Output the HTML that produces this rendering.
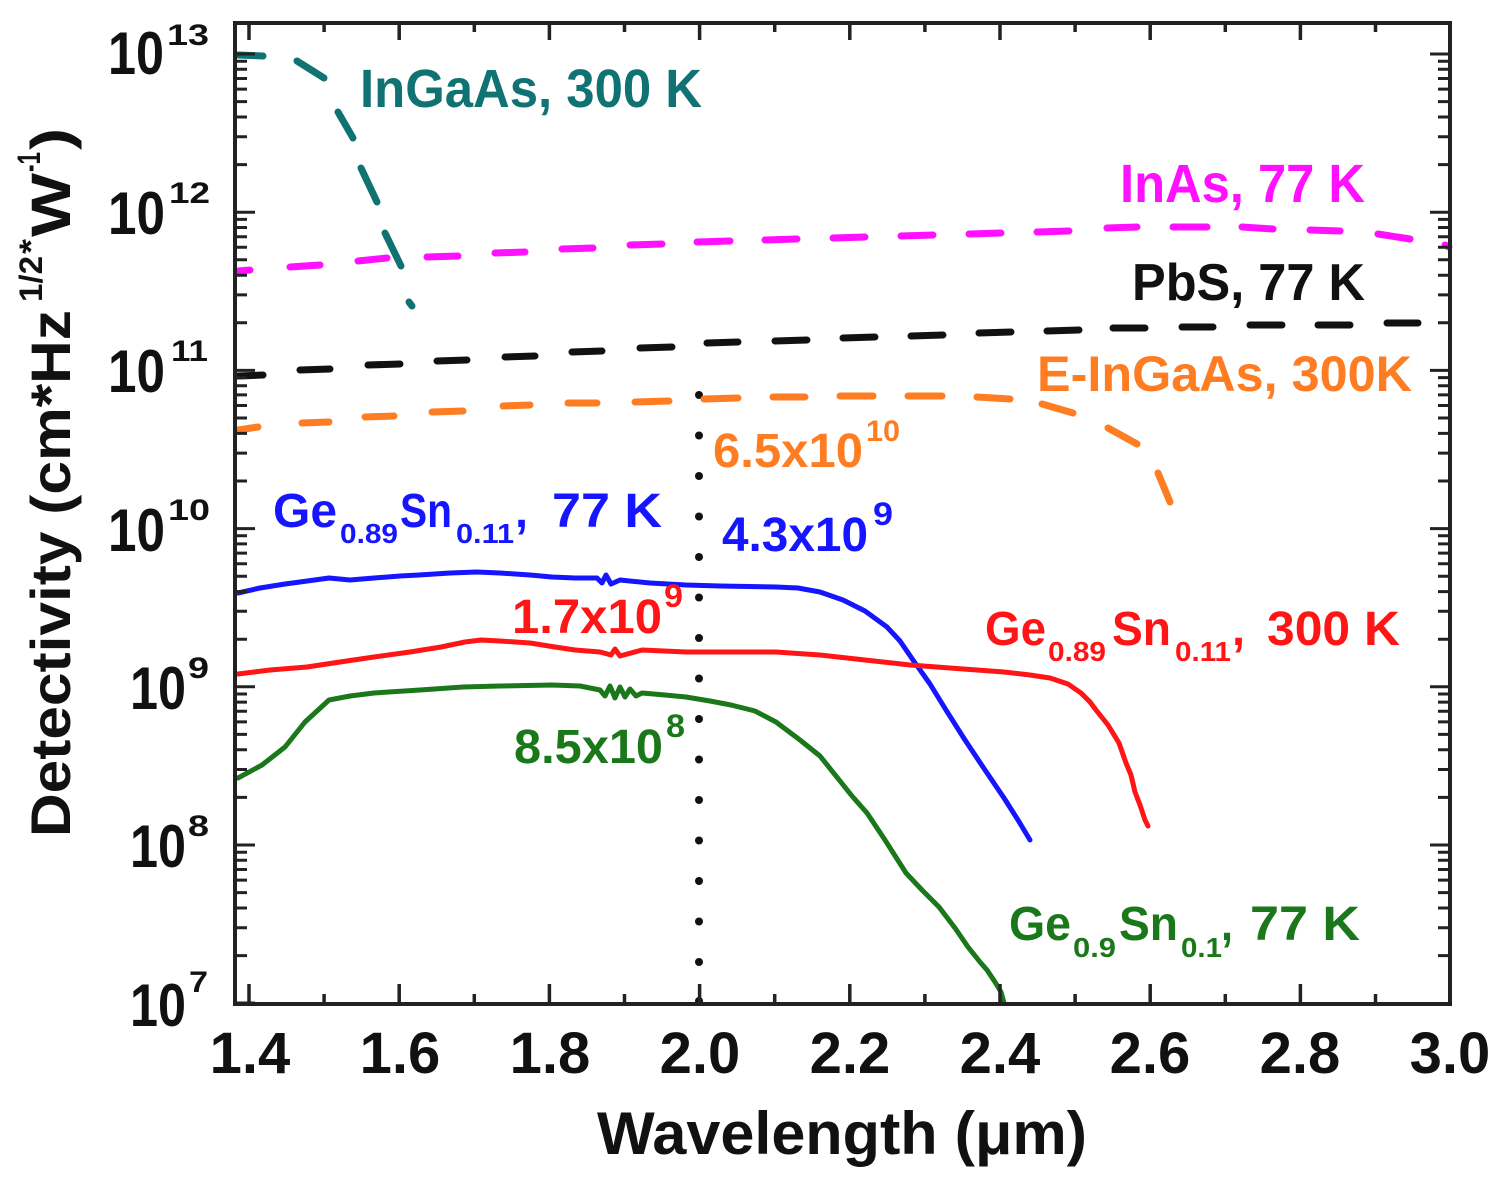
<!DOCTYPE html>
<html>
<head>
<meta charset="utf-8">
<style>
html,body{margin:0;padding:0;background:#fff;}
svg{display:block;}
text{font-family:"Liberation Sans",Arial,sans-serif;font-weight:bold;}
</style>
</head>
<body>
<svg width="1506" height="1185" viewBox="0 0 1506 1185" xmlns="http://www.w3.org/2000/svg">
<rect x="0" y="0" width="1506" height="1185" fill="#fff"/>

<!-- dotted vertical line at 2.0 um -->
<g fill="#111">
<circle cx="699" cy="395" r="4"/><circle cx="699" cy="435.5" r="4"/><circle cx="699" cy="476" r="4"/><circle cx="699" cy="516.5" r="4"/>
<circle cx="699" cy="557" r="4"/><circle cx="699" cy="597.5" r="4"/><circle cx="699" cy="638" r="4"/><circle cx="699" cy="678.5" r="4"/>
<circle cx="699" cy="719" r="4"/><circle cx="699" cy="759.5" r="4"/><circle cx="699" cy="800" r="4"/><circle cx="699" cy="840.5" r="4"/>
<circle cx="699" cy="881" r="4"/><circle cx="699" cy="921.5" r="4"/><circle cx="699" cy="962" r="4"/><circle cx="699" cy="1001" r="4"/>
</g>

<!-- InGaAs 300K teal dashed -->
<g stroke="#107272" stroke-width="7" stroke-linecap="round" fill="none">
<path d="M238,55 L263,56"/>
<path d="M297,61 L324,78"/>
<path d="M338,112 L353,138"/>
<path d="M361,168 L377,202"/>
<path d="M385,233 L401,266"/>
<path d="M409,302 L412,306"/>
</g>

<!-- InAs 77K magenta dashed -->
<g stroke="#ff10ff" stroke-width="7" stroke-linecap="round" fill="none">
<path d="M238,271 L250,270"/>
<path d="M290,267 L320,265"/>
<path d="M358,261 L387,258"/>
<path d="M427,257 L458,256"/>
<path d="M495,253 L525,252"/>
<path d="M562,249 L593,248"/>
<path d="M630,245 L662,244"/>
<path d="M697,242 L730,241"/>
<path d="M765,240 L797,239"/>
<path d="M833,238 L865,237"/>
<path d="M901,236 L933,235"/>
<path d="M969,234 L1001,233"/>
<path d="M1037,232 L1069,231"/>
<path d="M1107,228 L1137,227"/>
<path d="M1173,227 L1207,227"/>
<path d="M1242,227 L1273,229"/>
<path d="M1310,230 L1340,231"/>
<path d="M1378,234 L1410,239"/>
<path d="M1445,245 L1449,247"/>
</g>

<!-- PbS 77K black dashed -->
<g stroke="#111" stroke-width="7" stroke-linecap="round" fill="none">
<path d="M238,376 L263,375"/>
<path d="M300,370 L330,369"/>
<path d="M368,365 L400,364"/>
<path d="M437,361 L467,360"/>
<path d="M505,357 L535,356"/>
<path d="M572,352 L602,351"/>
<path d="M640,348 L672,347"/>
<path d="M707,343 L738,342"/>
<path d="M775,341 L807,340"/>
<path d="M843,338 L875,337"/>
<path d="M911,336 L943,335"/>
<path d="M979,333 L1011,332"/>
<path d="M1047,331 L1079,330"/>
<path d="M1113,328 L1145,328"/>
<path d="M1182,327 L1213,327"/>
<path d="M1250,325 L1282,325"/>
<path d="M1318,325 L1350,325"/>
<path d="M1387,323 L1418,323"/>
</g>

<!-- E-InGaAs 300K orange dashed -->
<g stroke="#ff7d22" stroke-width="7" stroke-linecap="round" fill="none">
<path d="M238,430 L258,427"/>
<path d="M302,423 L329,422"/>
<path d="M365,417 L394,416"/>
<path d="M432,412 L463,411"/>
<path d="M503,406 L530,405"/>
<path d="M568,403 L597,403"/>
<path d="M635,402 L669,401"/>
<path d="M704,399 L738,398"/>
<path d="M773,397 L805,397"/>
<path d="M840,396 L873,396"/>
<path d="M908,396 L942,396"/>
<path d="M977,397 L1010,399"/>
<path d="M1042,404 L1073,413"/>
<path d="M1108,428 L1137,444"/>
<path d="M1158,473 L1170,502"/>
</g>

<!-- Ge0.89Sn0.11 77K blue -->
<polyline fill="none" stroke="#1515ff" stroke-width="5" stroke-linejoin="round" stroke-linecap="round"
points="238,593 260,588 285,584 300,582 329,578 350,580 374,578 400,576 419,575 450,573 477,572 500,573 530,575 552,577 575,578 597,578 602,583 606,575 611,584 620,580 650,583 686,585 720,586 776,587 798,588 820,592 843,600 865,611 887,627 900,641 913,660 930,684 946,710 965,740 985,770 1004,798 1018,820 1030,840"/>

<!-- Ge0.89Sn0.11 300K red -->
<polyline fill="none" stroke="#ff1515" stroke-width="5" stroke-linejoin="round" stroke-linecap="round"
points="238,674 270,670 307,667 340,662 374,657 410,652 441,647 465,642 481,640 500,641 530,643 555,647 575,650 600,652 611,655 615,649 620,656 642,650 686,652 730,652 776,652 820,655 865,660 910,665 950,668 1004,672 1030,675 1050,678 1068,684 1081,693 1090,702 1096,710 1108,725 1119,743 1126,763 1131,775 1135,792 1140,805 1145,820 1148,826"/>

<!-- Ge0.9Sn0.1 77K green -->
<polyline fill="none" stroke="#1a781a" stroke-width="5" stroke-linejoin="round" stroke-linecap="round"
points="238,778 262,765 285,747 305,722 329,700 350,696 374,693 420,690 463,687 500,686 552,685 580,686 600,690 605,696 610,686 615,698 620,687 625,697 630,689 636,696 642,693 665,695 686,697 710,701 731,705 755,711 776,722 800,740 820,756 836,776 852,796 867,813 885,840 906,873 922,890 939,907 955,928 968,947 980,962 987,970 995,982 1001,992 1004,1003"/>

<!-- axes frame -->
<rect x="235" y="23" width="1215" height="981" fill="none" stroke="#222" stroke-width="4"/>

<!-- x ticks -->
<g stroke="#222" stroke-width="3.5" fill="none">
<path d="M249,1004v-20M399.2,1004v-20M549.4,1004v-20M699.6,1004v-20M849.8,1004v-20M1000,1004v-20M1150.2,1004v-20M1300.4,1004v-20"/>
<path d="M324.1,1004v-10M474.3,1004v-10M624.5,1004v-10M774.7,1004v-10M924.9,1004v-10M1075.1,1004v-10M1225.3,1004v-10M1375.5,1004v-10"/>
<path d="M249,23v17M399.2,23v17M549.4,23v17M699.6,23v17M849.8,23v17M1000,23v17M1150.2,23v17M1300.4,23v17"/>
<path d="M324.1,23v9M474.3,23v9M624.5,23v9M774.7,23v9M924.9,23v9M1075.1,23v9M1225.3,23v9M1375.5,23v9"/>
</g>

<!-- y ticks -->
<g stroke="#222" stroke-width="3" fill="none">
<path d="M235,54h20M235,212.2h20M235,370.4h20M235,528.6h20M235,686.8h20M235,845h20M235,1003h20"/>
<path d="M1450,54h-20M1450,212.2h-20M1450,370.4h-20M1450,528.6h-20M1450,686.8h-20M1450,845h-20"/>
<path d="M235,164.6h12M235,136.7h12M235,117h12M235,101.6h12M235,89.1h12M235,78.5h12M235,69.3h12M235,61.2h12
M235,322.8h12M235,294.9h12M235,275.2h12M235,259.8h12M235,247.3h12M235,236.7h12M235,227.5h12M235,219.4h12
M235,481h12M235,453.1h12M235,433.4h12M235,418h12M235,405.5h12M235,394.9h12M235,385.7h12M235,377.6h12
M235,639.2h12M235,611.3h12M235,591.6h12M235,576.2h12M235,563.7h12M235,553.1h12M235,543.9h12M235,535.8h12
M235,797.4h12M235,769.5h12M235,749.8h12M235,734.4h12M235,721.9h12M235,711.3h12M235,702.1h12M235,694h12
M235,955.6h12M235,927.7h12M235,908h12M235,892.6h12M235,880.1h12M235,869.5h12M235,860.3h12M235,852.2h12"/>
<path d="M1450,164.6h-12M1450,136.7h-12M1450,117h-12M1450,101.6h-12M1450,89.1h-12M1450,78.5h-12M1450,69.3h-12M1450,61.2h-12
M1450,322.8h-12M1450,294.9h-12M1450,275.2h-12M1450,259.8h-12M1450,247.3h-12M1450,236.7h-12M1450,227.5h-12M1450,219.4h-12
M1450,481h-12M1450,453.1h-12M1450,433.4h-12M1450,418h-12M1450,405.5h-12M1450,394.9h-12M1450,385.7h-12M1450,377.6h-12
M1450,639.2h-12M1450,611.3h-12M1450,591.6h-12M1450,576.2h-12M1450,563.7h-12M1450,553.1h-12M1450,543.9h-12M1450,535.8h-12
M1450,797.4h-12M1450,769.5h-12M1450,749.8h-12M1450,734.4h-12M1450,721.9h-12M1450,711.3h-12M1450,702.1h-12M1450,694h-12
M1450,955.6h-12M1450,927.7h-12M1450,908h-12M1450,892.6h-12M1450,880.1h-12M1450,869.5h-12M1450,860.3h-12M1450,852.2h-12"/>
</g>

<!-- y tick labels -->
<g fill="#111">
<text x="108" y="74" font-size="60" textLength="56" lengthAdjust="spacingAndGlyphs">10</text>
<text x="167" y="45" font-size="30" textLength="42" lengthAdjust="spacingAndGlyphs">13</text>
<text x="108" y="234" font-size="60" textLength="57" lengthAdjust="spacingAndGlyphs">10</text>
<text x="169" y="203" font-size="30" textLength="41" lengthAdjust="spacingAndGlyphs">12</text>
<text x="108" y="392" font-size="60" textLength="57" lengthAdjust="spacingAndGlyphs">10</text>
<text x="171" y="361" font-size="30" textLength="37" lengthAdjust="spacingAndGlyphs">11</text>
<text x="108" y="551" font-size="60" textLength="57" lengthAdjust="spacingAndGlyphs">10</text>
<text x="168" y="520" font-size="30" textLength="42" lengthAdjust="spacingAndGlyphs">10</text>
<text x="130" y="709" font-size="60" textLength="56" lengthAdjust="spacingAndGlyphs">10</text>
<text x="188" y="678" font-size="30" textLength="21" lengthAdjust="spacingAndGlyphs">9</text>
<text x="130" y="867" font-size="60" textLength="56" lengthAdjust="spacingAndGlyphs">10</text>
<text x="188" y="836" font-size="30" textLength="21" lengthAdjust="spacingAndGlyphs">8</text>
<text x="130" y="1026" font-size="60" textLength="56" lengthAdjust="spacingAndGlyphs">10</text>
<text x="189" y="992" font-size="30" textLength="19" lengthAdjust="spacingAndGlyphs">7</text>
</g>

<!-- x tick labels -->
<g fill="#111" font-size="58" text-anchor="middle">
<text x="250" y="1073">1.4</text>
<text x="400" y="1073">1.6</text>
<text x="550" y="1073">1.8</text>
<text x="700" y="1073">2.0</text>
<text x="850" y="1073">2.2</text>
<text x="1000" y="1073">2.4</text>
<text x="1150" y="1073">2.6</text>
<text x="1300" y="1073">2.8</text>
<text x="1450" y="1073">3.0</text>
</g>

<!-- x axis title -->
<text x="597" y="1154" font-size="60" fill="#111" textLength="490" lengthAdjust="spacingAndGlyphs">Wavelength (μm)</text>

<!-- y axis title -->
<g transform="translate(70,837) rotate(-90)" fill="#111">
<text x="0" y="0" font-size="56" textLength="527" lengthAdjust="spacingAndGlyphs">Detectivity (cm*Hz</text>
<text x="535" y="-28" font-size="32" textLength="46" lengthAdjust="spacingAndGlyphs">1/2</text>
<text x="583" y="-28" font-size="32" textLength="15" lengthAdjust="spacingAndGlyphs">*</text>
<text x="600" y="0" font-size="56" textLength="64" lengthAdjust="spacingAndGlyphs">W</text>
<text x="665" y="-30" font-size="32" textLength="20" lengthAdjust="spacingAndGlyphs">-1</text>
<text x="687" y="0" font-size="56" textLength="22" lengthAdjust="spacingAndGlyphs">)</text>
</g>

<!-- annotations -->
<text x="360" y="107" font-size="54" fill="#107272" textLength="342" lengthAdjust="spacingAndGlyphs">InGaAs, 300 K</text>
<text x="1120" y="202" font-size="54" fill="#ff10ff" textLength="245" lengthAdjust="spacingAndGlyphs">InAs, 77 K</text>
<text x="1132" y="300" font-size="52" fill="#111" textLength="233" lengthAdjust="spacingAndGlyphs">PbS, 77 K</text>
<text x="1037" y="391" font-size="50" fill="#ff7d22" textLength="375" lengthAdjust="spacingAndGlyphs">E-InGaAs, 300K</text>

<text x="713" y="467" font-size="48" fill="#ff7d22" textLength="150" lengthAdjust="spacingAndGlyphs">6.5x10</text>
<text x="866" y="441" font-size="30" fill="#ff7d22" textLength="34" lengthAdjust="spacingAndGlyphs">10</text>

<text x="722" y="551" font-size="48" fill="#1515ff" textLength="146" lengthAdjust="spacingAndGlyphs">4.3x10</text>
<text x="873" y="525" font-size="32" fill="#1515ff" textLength="20" lengthAdjust="spacingAndGlyphs">9</text>

<text x="512" y="633" font-size="48" fill="#ff1515" textLength="150" lengthAdjust="spacingAndGlyphs">1.7x10</text>
<text x="664" y="607" font-size="32" fill="#ff1515" textLength="19" lengthAdjust="spacingAndGlyphs">9</text>

<text x="514" y="763" font-size="48" fill="#1a781a" textLength="149" lengthAdjust="spacingAndGlyphs">8.5x10</text>
<text x="666" y="737" font-size="32" fill="#1a781a" textLength="19" lengthAdjust="spacingAndGlyphs">8</text>

<!-- blue label -->
<g fill="#1515ff">
<text x="273" y="527" font-size="48" textLength="64" lengthAdjust="spacingAndGlyphs">Ge</text>
<text x="340" y="543" font-size="28" textLength="58" lengthAdjust="spacingAndGlyphs">0.89</text>
<text x="400" y="527" font-size="48" textLength="52" lengthAdjust="spacingAndGlyphs">Sn</text>
<text x="456" y="543" font-size="28" textLength="58" lengthAdjust="spacingAndGlyphs">0.11</text>
<text x="515" y="527" font-size="48" textLength="13" lengthAdjust="spacingAndGlyphs">,</text>
<text x="552" y="527" font-size="48" textLength="110" lengthAdjust="spacingAndGlyphs">77 K</text>
</g>

<!-- red label -->
<g fill="#ff1515">
<text x="985" y="645" font-size="48" textLength="61" lengthAdjust="spacingAndGlyphs">Ge</text>
<text x="1048" y="661" font-size="28" textLength="58" lengthAdjust="spacingAndGlyphs">0.89</text>
<text x="1112" y="645" font-size="48" textLength="59" lengthAdjust="spacingAndGlyphs">Sn</text>
<text x="1175" y="661" font-size="28" textLength="56" lengthAdjust="spacingAndGlyphs">0.11</text>
<text x="1232" y="645" font-size="48" textLength="13" lengthAdjust="spacingAndGlyphs">,</text>
<text x="1267" y="645" font-size="48" textLength="133" lengthAdjust="spacingAndGlyphs">300 K</text>
</g>

<!-- green label -->
<g fill="#1a781a">
<text x="1009" y="940" font-size="48" textLength="62" lengthAdjust="spacingAndGlyphs">Ge</text>
<text x="1073" y="957" font-size="28" textLength="43" lengthAdjust="spacingAndGlyphs">0.9</text>
<text x="1119" y="940" font-size="48" textLength="59" lengthAdjust="spacingAndGlyphs">Sn</text>
<text x="1181" y="957" font-size="28" textLength="41" lengthAdjust="spacingAndGlyphs">0.1</text>
<text x="1221" y="940" font-size="48" textLength="12" lengthAdjust="spacingAndGlyphs">,</text>
<text x="1250" y="940" font-size="48" textLength="110" lengthAdjust="spacingAndGlyphs">77 K</text>
</g>

</svg>
</body>
</html>
